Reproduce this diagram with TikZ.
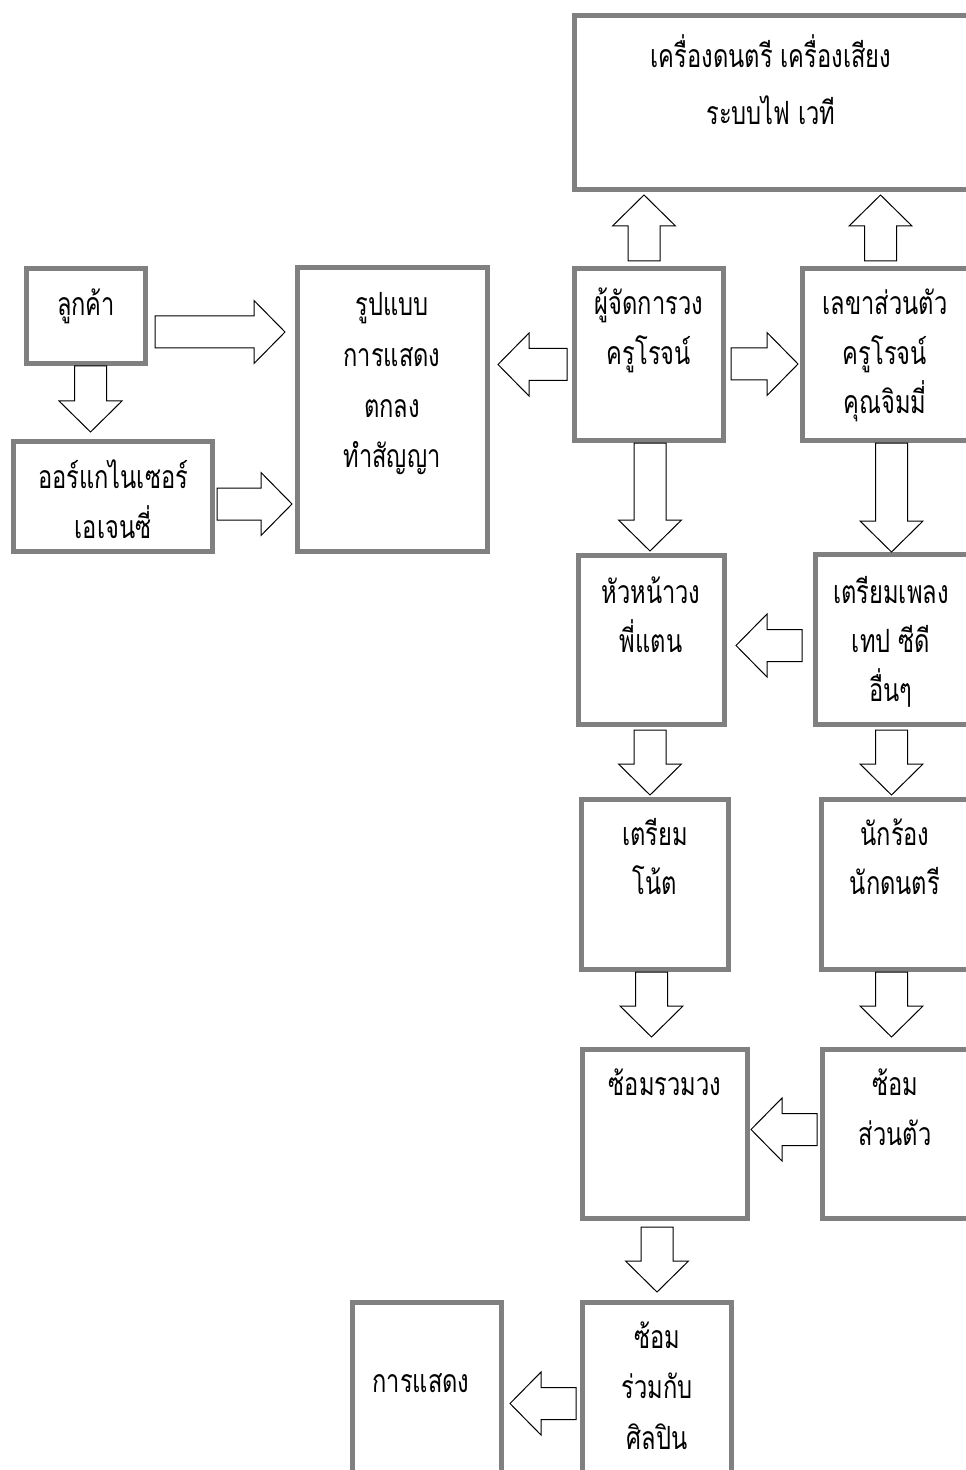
\documentclass[tikz,border=0pt]{standalone}
\usepackage{fontspec}
\newfontfamily\thai[Script=Thai, FakeStretch=0.74]{Loma}
\usetikzlibrary{fit}
\definecolor{boxgray}{HTML}{808080}
\newcommand\arrR[3]{\draw[blk] (#2,#1-16) -- (#3-31,#1-16) -- (#3-31,#1-31.5) -- (#3,#1) -- (#3-31,#1+31.5) -- (#3-31,#1+16) -- (#2,#1+16) -- cycle;}
\newcommand\arrL[3]{\draw[blk] (#2,#1-16) -- (#3+31,#1-16) -- (#3+31,#1-31.5) -- (#3,#1) -- (#3+31,#1+31.5) -- (#3+31,#1+16) -- (#2,#1+16) -- cycle;}
\newcommand\arrD[3]{\draw[blk] (#1-16,#2) -- (#1-16,#3-31) -- (#1-31.5,#3-31) -- (#1,#3) -- (#1+31.5,#3-31) -- (#1+16,#3-31) -- (#1+16,#2) -- cycle;}
\newcommand\arrU[3]{\draw[blk] (#1-16,#2) -- (#1-16,#3+31) -- (#1-31.5,#3+31) -- (#1,#3) -- (#1+31.5,#3+31) -- (#1+16,#3+31) -- (#1+16,#2) -- cycle;}
\begin{document}
\begin{tikzpicture}[x=0.5pt,y=-0.5pt,
  box/.style={draw=boxgray, line width=2.5pt, inner sep=0pt, fill=white},
  blk/.style={draw=black, line width=0.5pt, fill=white, line join=miter},
  txt/.style={font=\thai\fontsize{16}{16}\selectfont, anchor=base, inner sep=0pt}]
\useasboundingbox (0,0) rectangle (965,1470);
% boxes
\node[box, fit={(574.5,15.5) (968,189.5)}] (eq) {};
\node[box, fit={(26.5,268.5) (145.5,363.5)}] (lk) {};
\node[box, fit={(13.5,441.5) (212.5,551.5)}] (org) {};
\node[box, fit={(297.5,267.5) (487.5,551.5)}] (rp) {};
\node[box, fit={(574.5,268.5) (723.5,440.5)}] (mgr) {};
\node[box, fit={(802.5,268.5) (968,440.5)}] (sec) {};
\node[box, fit={(578.5,555.5) (724.5,724.5)}] (head) {};
\node[box, fit={(815.5,554.5) (968,724.5)}] (song) {};
\node[box, fit={(581.5,799.5) (728.5,969.5)}] (note) {};
\node[box, fit={(821.5,799.5) (968,969.5)}] (sing) {};
\node[box, fit={(582.5,1049.5) (747.5,1218.5)}] (rall) {};
\node[box, fit={(822.5,1049.5) (968,1218.5)}] (rself) {};
\node[box, fit={(582.5,1302.5) (731.5,1480)}] (art) {};
\node[box, fit={(352.5,1302.5) (501.5,1480)}] (show) {};
% texts
\node[txt] (eq1) at (771,68) {เครื่องดนตรี เครื่องเสียง};
\node[txt] (eq2) at (771,125) {ระบบไฟ เวที};
\node[txt] (lk1) at (86,316) {ลูกค้า};
\node[txt] (org1) at (113,488) {ออร์แกไนเซอร์};
\node[txt] (org2) at (113,538) {เอเจนซี่};
\node[txt] (rp1) at (392,316) {รูปแบบ};
\node[txt] (rp2) at (392,367) {การแสดง};
\node[txt] (rp3) at (392,417) {ตกลง};
\node[txt] (rp4) at (392,467) {ทำสัญญา};
\node[txt] (mgr1) at (649,315) {ผู้จัดการวง};
\node[txt] (mgr2) at (649,365) {ครูโรจน์};
\node[txt] (sec1) at (885,315) {เลขาส่วนตัว};
\node[txt] (sec2) at (885,365) {ครูโรจน์};
\node[txt] (sec3) at (885,414) {คุณจิมมี่};
\node[txt] (head1) at (651,603) {หัวหน้าวง};
\node[txt] (head2) at (651,652) {พี่แตน};
\node[txt] (song1) at (891,603) {เตรียมเพลง};
\node[txt] (song2) at (891,652) {เทป ซีดี};
\node[txt] (song3) at (891,701) {อื่นๆ};
\node[txt] (note1) at (655,845) {เตรียม};
\node[txt] (note2) at (655,894) {โน้ต};
\node[txt] (sing1) at (895,845) {นักร้อง};
\node[txt] (sing2) at (895,894) {นักดนตรี};
\node[txt] (rall1) at (665,1095) {ซ้อมรวมวง};
\node[txt] (rself1) at (895,1095) {ซ้อม};
\node[txt] (rself2) at (895,1145) {ส่วนตัว};
\node[txt] (art1) at (657,1348) {ซ้อม};
\node[txt] (art2) at (657,1398) {ร่วมกับ};
\node[txt] (art3) at (657,1449) {ศิลปิน};
\node[txt] (show1) at (421,1392) {การแสดง};
% arrows
\arrR{332}{155}{285}
\arrD{90.5}{366}{432}
\arrR{504}{217}{292}
\arrL{364.5}{567}{498}
\arrR{364}{731}{798}
\arrU{644}{261}{195}
\arrU{880.5}{261}{195}
\arrD{650}{443}{551}
\arrD{891.5}{443}{552}
\arrL{645.5}{802}{736}
\arrD{650}{730}{795}
\arrD{891.5}{730}{795}
\arrD{651.5}{972}{1037}
\arrD{891.5}{972}{1037}
\arrL{1129.5}{817}{751}
\arrD{657}{1227}{1292}
\arrL{1403.5}{576}{510}
\end{tikzpicture}
\end{document}
